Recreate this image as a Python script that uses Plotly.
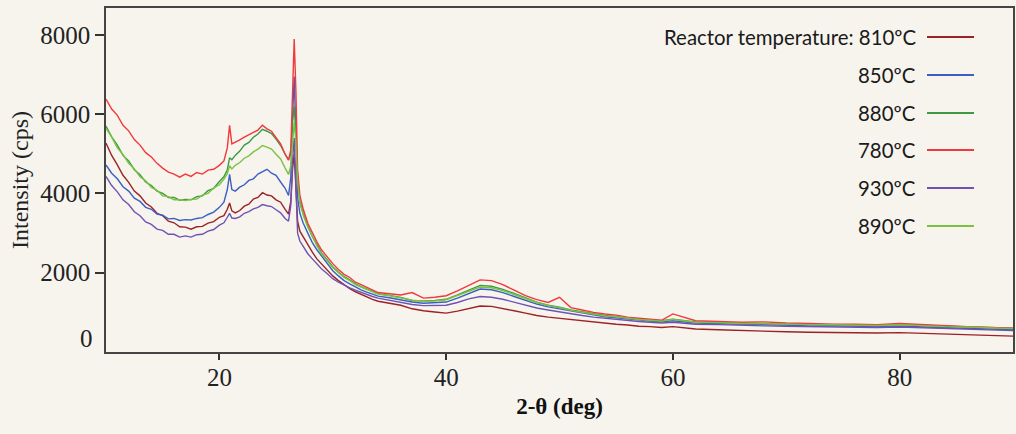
import plotly.graph_objects as go

# ---------------- data ----------------
x_deg = [10, 10.5, 11, 11.5, 12, 12.5, 13, 13.5, 14, 14.5, 15, 15.5, 16, 16.5, 17, 17.5, 18, 18.5, 19, 19.5, 20,
         20.4, 20.7, 20.9, 21.1, 21.4, 21.8, 22.2, 22.6, 23, 23.4, 23.8, 24.2, 24.6, 25, 25.4, 25.8, 26.1, 26.3,
         26.45, 26.6, 26.75, 26.9, 27.1, 27.4, 27.8, 28.2, 28.6, 29, 29.5,
         30, 30.5, 31, 31.5, 32, 32.5, 33, 33.5, 34,
         35, 36, 37, 38, 39, 40, 41, 42, 43, 44, 45, 46, 47, 48, 49, 50, 51, 52, 53, 54, 55, 56, 57, 58, 59, 60,
         62, 64, 66, 68, 70, 72, 74, 76, 78, 80, 82, 84, 86, 88, 90]

i_810 = [5270, 4960, 4720, 4460, 4280, 4060, 3940, 3760, 3660, 3500, 3440, 3300, 3260, 3160, 3150, 3100, 3160, 3170, 3250, 3290, 3400,
         3440, 3600, 3760, 3560, 3510, 3570, 3680, 3730, 3860, 3900, 4020, 3960, 3940, 3840, 3780, 3600, 3480, 3800,
         4600, 5000, 4300, 3300, 3050, 2900, 2700, 2520, 2350, 2220, 2080,
         1920, 1800, 1690, 1600, 1520, 1450, 1390, 1330, 1280,
         1230, 1180, 1090, 1040, 1010, 980, 1030, 1100, 1160, 1150, 1100, 1040, 980, 920, 880, 850, 810, 780, 750, 720, 700, 680, 650, 640, 620, 640,
         580, 560, 540, 520, 510, 500, 490, 490, 480, 490, 470, 450, 430, 410, 400]

i_850 = [4720, 4510, 4370, 4170, 4060, 3880, 3800, 3650, 3600, 3480, 3450, 3360, 3370, 3320, 3340, 3330, 3370, 3390, 3470, 3530, 3650,
         3780, 4100, 4480, 4100, 4060, 4160, 4220, 4330, 4370, 4490, 4550, 4610, 4510, 4460, 4290, 4130, 3950, 4400,
         5900, 6950, 5500, 3900, 3500, 3250, 3000, 2760, 2580, 2420, 2250,
         2050, 1920, 1800, 1720, 1640, 1570, 1510, 1460, 1410,
         1370, 1320, 1260, 1230, 1240, 1260, 1360, 1480, 1590, 1570, 1500, 1400, 1300, 1210, 1140, 1090, 1030, 980, 930, 890, 860, 830, 800, 780, 760, 790,
         730, 710, 700, 690, 670, 660, 660, 650, 640, 650, 630, 610, 590, 570, 560]

i_880 = [5700, 5430, 5220, 4960, 4820, 4600, 4470, 4290, 4200, 4060, 4000, 3900, 3900, 3830, 3850, 3840, 3920, 3940, 4070, 4130, 4300,
         4420, 4600, 4900, 4850, 4960, 5070, 5220, 5290, 5420, 5500, 5620, 5570, 5510, 5370, 5210, 4990, 4850, 5000,
         5800, 6200, 5600, 4400, 3800, 3500, 3180, 2920, 2700, 2500, 2330,
         2150, 2020, 1900, 1820, 1720, 1650, 1590, 1530, 1470,
         1430, 1380, 1300, 1290, 1300, 1330, 1440, 1560, 1680, 1660, 1580, 1480, 1360, 1260, 1180, 1130, 1060, 1010, 960, 920, 900, 860, 830, 810, 790, 830,
         760, 740, 730, 720, 700, 700, 690, 680, 680, 690, 670, 650, 630, 610, 600]

i_780 = [6380, 6130, 5970, 5720, 5580, 5360, 5220, 5030, 4920, 4760, 4640, 4540, 4490, 4410, 4490, 4430, 4530, 4490, 4590, 4610, 4710,
         4820, 5150, 5720, 5250, 5290, 5350, 5420, 5470, 5540, 5600, 5720, 5630, 5570, 5410, 5250, 4990, 4840, 5100,
         6500, 7900, 6600, 4600, 3950, 3600, 3250, 3000, 2780, 2580, 2400,
         2230, 2080, 1960, 1880, 1760, 1700, 1640, 1580, 1500,
         1470, 1440, 1500, 1360, 1380, 1420, 1540, 1680, 1820, 1800, 1700, 1560, 1420, 1320, 1250, 1380, 1120, 1060, 1000, 960, 930, 880, 850, 830, 800, 960,
         790, 770, 750, 760, 730, 720, 700, 700, 690, 720, 690, 660, 640, 620, 600]

i_930 = [4430, 4200, 4040, 3840, 3720, 3540, 3440, 3280, 3220, 3100, 3070, 2970, 2970, 2900, 2930, 2900, 2960, 2970, 3050, 3090, 3200,
         3260, 3400, 3500, 3380, 3370, 3410, 3500, 3540, 3610, 3650, 3720, 3690, 3670, 3590, 3510, 3370, 3300, 3700,
         4800, 5400, 4300, 3000, 2800, 2650, 2480, 2350, 2220, 2100, 1980,
         1850, 1760, 1680, 1620, 1560, 1500, 1450, 1400, 1360,
         1310, 1260, 1200, 1170, 1170, 1180, 1250, 1340, 1400, 1380, 1330, 1260, 1180, 1110, 1060, 1010, 960, 920, 880, 850, 820, 790, 770, 750, 730, 750,
         700, 690, 670, 660, 650, 640, 640, 630, 620, 630, 610, 590, 570, 550, 540]

i_890 = [5650, 5420, 5150, 4980, 4760, 4620, 4420, 4320, 4150, 4080, 3940, 3920, 3840, 3840, 3820, 3850, 3860, 3960, 4000, 4140, 4220,
         4360, 4500, 4700, 4620, 4710, 4780, 4890, 4950, 5050, 5120, 5210, 5170, 5120, 4990, 4870, 4640, 4480, 4700,
         5400, 5800, 5300, 4300, 3750, 3450, 3150, 2900, 2680, 2480, 2300,
         2130, 2000, 1880, 1800, 1700, 1640, 1580, 1520, 1460,
         1420, 1370, 1310, 1280, 1290, 1320, 1420, 1540, 1640, 1620, 1550, 1450, 1340, 1250, 1170, 1120, 1050, 1000, 950, 910, 890, 850, 820, 800, 780, 820,
         750, 740, 720, 720, 700, 690, 690, 680, 670, 690, 660, 640, 630, 610, 590]

series_labels = ["810ºC", "850ºC", "880ºC", "780ºC", "930ºC", "890ºC"]
series_values = [i_810, i_850, i_880, i_780, i_930, i_890]
series_colors = ["#9b2226", "#3b5fc4", "#3c9a45", "#f2383a", "#7052b5", "#7cc242"]

x_ticks = [20, 40, 60, 80]
y_ticks = [2000, 4000, 6000, 8000]

# ---------------- layout geometry ----------------
W, H = 1016, 434
L, R, T, B = 106, 1013, 8, 352
BG = "#f6f4ed"


def pxx(p):
    return (p - L) / (R - L)


def pxy(p):
    return (B - p) / (B - T)


fig = go.Figure()
for name, vals, col in zip(series_labels, series_values, series_colors):
    fig.add_trace(go.Scatter(x=x_deg, y=vals, mode="lines", name=name,
                             line=dict(color=col, width=1.4), showlegend=False))

serif = "Liberation Serif, Times New Roman, serif"

fig.update_layout(
    width=W, height=H,
    margin=dict(l=L, r=W - R, t=T, b=H - B),
    paper_bgcolor=BG, plot_bgcolor=BG,
    font=dict(family=serif, color="#222"),
    xaxis=dict(range=[10, 90], tickvals=x_ticks, ticks="outside", ticklen=6, tickwidth=1.5,
               tickcolor="#333", showline=True, linecolor="#444", linewidth=1.5, mirror=True,
               showgrid=False, zeroline=False, automargin=False, ticklabelstandoff=-4,
               tickfont=dict(family=serif, size=25, color="#222"),
               title=dict(text="<b>2-θ (deg)</b>", font=dict(family=serif, size=23, color="#111"), standoff=8)),
    yaxis=dict(range=[0, 8680], tickvals=y_ticks, ticks="outside", ticklen=9, tickwidth=1.5,
               tickcolor="#333", showline=True, linecolor="#444", linewidth=1.5, mirror=True,
               showgrid=False, zeroline=False, automargin=False,
               tickfont=dict(family=serif, size=25, color="#222"),
               title=dict(text="Intensity (cps)", font=dict(family=serif, size=24, color="#222"), standoff=5)),
)

# the "0" label sits a little above the axis in the reference
fig.add_annotation(x=pxx(95), y=pxy(338), xref="paper", yref="paper", text="0", showarrow=False,
                   xanchor="right", yanchor="middle", font=dict(family=serif, size=25, color="#222"))

# legend: text on the left, line sample on the right
row_y = [37, 75, 113, 150, 188, 226]
legend_font = dict(family="Lato, Carlito, Open Sans, sans-serif", size=20.4, color="#1a1a1a")
for k, (name, col) in enumerate(zip(series_labels, series_colors)):
    txt = ("Reactor temperature: " + name) if k == 0 else name
    fig.add_annotation(x=pxx(918), y=pxy(row_y[k]), xref="paper", yref="paper", text=txt,
                       showarrow=False, xanchor="right", yanchor="middle", font=legend_font)
    fig.add_shape(type="line", xref="paper", yref="paper", x0=pxx(927), x1=pxx(974),
                  y0=pxy(row_y[k]), y1=pxy(row_y[k]), line=dict(color=col, width=2))

fig.write_html("out.html", config={"displayModeBar": False},
               post_script="document.body.style.margin='0';document.body.style.overflow='hidden';")
